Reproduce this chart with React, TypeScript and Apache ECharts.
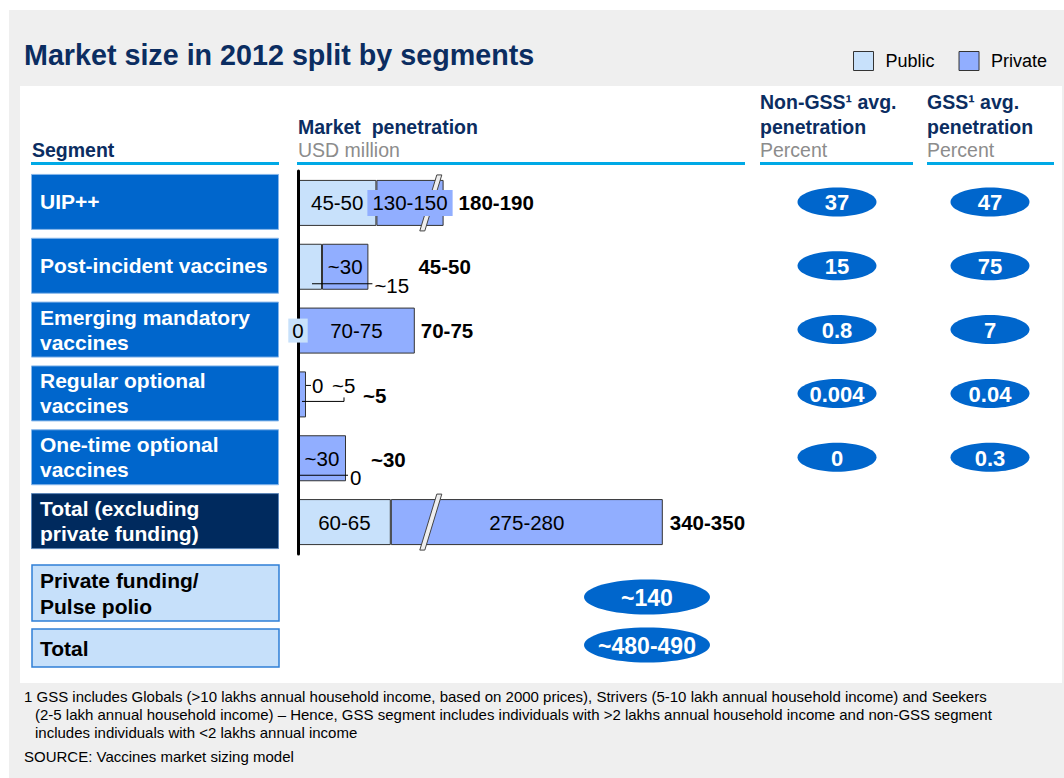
import React, { useEffect, useRef } from 'react';
import * as echarts from 'echarts';

// ---------- data ----------
const segments = [
  'UIP++',
  'Post-incident vaccines',
  'Emerging mandatory\nvaccines',
  'Regular optional\nvaccines',
  'One-time optional\nvaccines',
  'Total (excluding\nprivate funding)',
];
// drawn bar lengths in USD million (broken bars are shown truncated)
const publicBar = [49, 15, 0, 0, 0, 58];
const privateBar = [42, 29, 73, 5, 30, 170];
const publicLabels = ['45-50', '~15', '0', '0', '0', '60-65'];
const privateLabels = ['130-150', '~30', '70-75', '~5', '~30', '275-280'];
const totalLabels = ['180-190', '45-50', '70-75', '~5', '~30', '340-350'];
const brokenRows = [0, 5];
const nonGssPenetration = ['37', '15', '0.8', '0.004', '0'];
const gssPenetration = ['47', '75', '7', '0.04', '0.3'];
const extraSegments = ['Private funding/\nPulse polio', 'Total'];
const extraValues = ['~140', '~480-490'];
const footnoteLines = [
  '1 GSS includes Globals (>10 lakhs annual household income, based on 2000 prices), Strivers (5-10 lakh annual household income) and Seekers',
  '(2-5 lakh annual household income) \u2013 Hence, GSS segment includes individuals with >2 lakhs annual household income and non-GSS segment',
  'includes individuals with <2 lakhs annual income',
];
const sourceText = 'SOURCE: Vaccines market sizing model';

// ---------- styles ----------
const FONT = '"Liberation Sans", Arial, Helvetica, sans-serif';
const NAVY = '#0b2d61';
const CYAN = '#00a9e6';
const GREY_TXT = '#8c8c8c';
const BLUE = '#0066cc';
const DARK = '#002a5e';
const LIGHT = '#c6e0fa';
const PUBLIC = '#c8e1fb';
const PRIVATE = '#91aeff';
const BREAK_AT = 83;
const TOTAL_GAP = [15, 50, 6, 57, 25, 7];
const BAR_FS = 20.5;
const SEG_FS = 21;
const HDR_FS = 19.5;

type Any = any;

function txt(x: number, y: number, text: string, o: Any = {}): Any {
  return {
    type: 'text',
    x,
    y,
    z: o.z ?? 20,
    silent: true,
    style: {
      text,
      fontFamily: FONT,
      fontSize: o.size ?? 20,
      fontWeight: o.bold ? 'bold' : 'normal',
      fill: o.color ?? '#000',
      align: o.align ?? 'left',
      verticalAlign: 'middle',
      lineHeight: o.lh,
      backgroundColor: o.bg,
      padding: o.pad,
    },
  };
}
function rect(x: number, y: number, w: number, h: number, fill: string, o: Any = {}): Any {
  return {
    type: 'rect',
    z: o.z ?? 1,
    silent: true,
    shape: { x, y, width: w, height: h },
    style: { fill, stroke: o.stroke, lineWidth: o.lw ?? 0 },
  };
}
function line(x1: number, y1: number, x2: number, y2: number, color: string, w: number, z = 20): Any {
  return {
    type: 'line',
    z,
    silent: true,
    shape: { x1, y1, x2, y2 },
    style: { stroke: color, lineWidth: w },
  };
}
function ellipse(cx: number, cy: number, rx: number, ry: number, label: string, size: number): Any[] {
  return [
    { type: 'ellipse', z: 15, silent: true, shape: { cx, cy, rx, ry }, style: { fill: BLUE } },
    txt(cx, cy + 1, label, { size, bold: true, color: '#fff', align: 'center', z: 16 }),
  ];
}

export default function App() {
  const ref = useRef<HTMLDivElement>(null);
  useEffect(() => {
    if (!ref.current) return;
    const chart = echarts.init(ref.current, undefined, { renderer: 'svg' });
    const labelBase = { fontFamily: FONT, fontSize: BAR_FS, color: '#000' };
    chart.setOption({
      animation: false,
      backgroundColor: '#ffffff',
      legend: {
        left: 848,
        top: 46,
        itemWidth: 20,
        itemHeight: 19,
        itemGap: 24,
        icon: 'rect',
        selectedMode: false,
        textStyle: { fontFamily: FONT, fontSize: 18, color: '#000', padding: [0, 0, 0, 7] },
        data: [
          { name: 'Public', itemStyle: { color: PUBLIC, borderColor: '#333', borderWidth: 1 } },
          { name: 'Private', itemStyle: { color: PRIVATE, borderColor: '#333', borderWidth: 1 } },
        ],
      },
      grid: { left: 298, top: 171, width: 640, height: 383 },
      xAxis: { type: 'value', min: 0, max: 400, show: false },
      yAxis: {
        type: 'category',
        data: segments,
        inverse: true,
        z: 8,
        axisLine: { show: true, lineStyle: { color: '#000', width: 3 } },
        axisTick: { show: false },
        axisLabel: { show: false },
        splitLine: { show: false },
      },
      series: [
        {
          name: 'Public',
          type: 'bar',
          stack: 'mkt',
          barWidth: 46,
          itemStyle: { color: PUBLIC, borderColor: '#333', borderWidth: 1 },
          label: { show: false, position: 'inside', ...labelBase },
          data: publicBar.map((v, i) => ({
            value: v,
            label: { show: i === 0 || i === 5, formatter: publicLabels[i] },
          })),
        },
        {
          name: 'Private',
          type: 'bar',
          stack: 'mkt',
          barWidth: 46,
          itemStyle: { color: PRIVATE, borderColor: '#333', borderWidth: 1 },
          label: { show: false, position: 'inside', ...labelBase },
          data: privateBar.map((v, i) => ({
            value: v,
            label: { show: i !== 3 && i !== 0, formatter: privateLabels[i] },
          })),
        },
      ],
    });

    const px = (v: number, row: number) =>
      chart.convertToPixel({ gridIndex: 0 }, [v, row]) as number[];

    const g: Any[] = [];
    // backgrounds
    g.push(rect(9, 10, 1055, 768, '#efefef', { z: 0 }));
    g.push(rect(20, 86, 1042, 597, '#ffffff', { z: 0 }));
    // title
    g.push(txt(24, 55, 'Market size in 2012 split by segments', { size: 28.7, bold: true, color: NAVY }));
    // headers
    g.push(txt(32, 150, 'Segment', { size: HDR_FS, bold: true, color: NAVY }));
    g.push(line(31, 163.5, 279, 163.5, CYAN, 3));
    g.push(txt(298, 127, 'Market  penetration', { size: HDR_FS, bold: true, color: NAVY }));
    g.push(txt(298, 150, 'USD million', { size: HDR_FS, color: GREY_TXT }));
    g.push(line(297, 163.5, 745, 163.5, CYAN, 3));
    g.push(txt(760, 102, 'Non-GSS\u00b9 avg.', { size: HDR_FS, bold: true, color: NAVY }));
    g.push(txt(760, 127, 'penetration', { size: HDR_FS, bold: true, color: NAVY }));
    g.push(txt(760, 150, 'Percent', { size: HDR_FS, color: GREY_TXT }));
    g.push(line(760, 163.5, 913, 163.5, CYAN, 3));
    g.push(txt(927, 102, 'GSS\u00b9 avg.', { size: HDR_FS, bold: true, color: NAVY }));
    g.push(txt(927, 127, 'penetration', { size: HDR_FS, bold: true, color: NAVY }));
    g.push(txt(927, 150, 'Percent', { size: HDR_FS, color: GREY_TXT }));
    g.push(line(927, 163.5, 1054, 163.5, CYAN, 3));

    // segment boxes + penetration ellipses
    segments.forEach((s, i) => {
      const cy = px(0, i)[1] - 1;
      const last = i === segments.length - 1;
      g.push(rect(31.5, cy - 27.5, 247, 55, last ? DARK : BLUE, { stroke: last ? '#5d86b8' : '#86b6ea', lw: 1 }));
      g.push(txt(40, cy, s, { size: SEG_FS, bold: true, color: '#fff', lh: 25 }));
      if (i < nonGssPenetration.length) {
        g.push(...ellipse(837, cy, 39.5, 14.5, nonGssPenetration[i], 22));
        g.push(...ellipse(990, cy, 39.5, 14.5, gssPenetration[i], 22));
      }
    });
    // extra rows
    const extraY = [[565, 56], [629, 38]];
    extraSegments.forEach((s, i) => {
      const [y, h] = extraY[i];
      g.push(rect(32, y, 247, h, LIGHT, { stroke: '#2f7fd6', lw: 1.5 }));
      g.push(txt(40, y + h / 2, s, { size: SEG_FS, bold: true, color: '#000', lh: 26 }));
      g.push(...ellipse(647, y + h / 2 + (i === 0 ? 4 : -3), 63, 17.5, extraValues[i], 23));
    });

    // total labels
    totalLabels.forEach((t, i) => {
      const end = px(publicBar[i] + privateBar[i], i);
      const dy = i === 3 ? 1 : i === 4 ? 1 : 0;
      g.push(txt(end[0] + TOTAL_GAP[i], end[1] + dy, t, { size: BAR_FS, bold: true }));
    });

    // axis-break slashes
    brokenRows.forEach((r) => {
      const [x, y] = px(BREAK_AT, r);
      g.push({
        type: 'polygon',
        z: 12,
        silent: true,
        shape: {
          points: [
            [x + 6, y - 28],
            [x + 11, y - 28],
            [x - 6, y + 28],
            [x - 11, y + 28],
          ],
        },
        style: { fill: '#eeeeee', stroke: '#444', lineWidth: 1 },
      });
    });

    // UIP++ private label sits over the break, on its own backdrop
    {
      const a = px(publicBar[0], 0);
      const b = px(publicBar[0] + privateBar[0], 0);
      g.push(txt((a[0] + b[0]) / 2, a[1], privateLabels[0], { size: BAR_FS, align: 'center', bg: PRIVATE, pad: [3, 5, 2, 5], z: 14 }));
    }

    // call-out labels for small values
    {
      // row 1: public ~15
      const y = px(0, 1)[1];
      const pubMid = px(publicBar[1] / 2, 1)[0];
      const end = px(publicBar[1] + privateBar[1], 1)[0];
      g.push(line(pubMid + 2, y + 17, end + 4, y + 17, '#000', 1));
      g.push(txt(end + 6, y + 19, publicLabels[1], { size: BAR_FS }));
    }
    {
      // row 2: public 0 badge at axis
      const [x0, y] = px(0, 2);
      g.push(txt(x0, y, publicLabels[2], { size: BAR_FS, align: 'center', bg: PUBLIC, pad: [2, 4, 1, 4], z: 9 }));
    }
    {
      // row 3: public 0 and private ~5
      const [x0, y] = px(0, 3);
      const end = px(publicBar[3] + privateBar[3], 3)[0];
      g.push(line(end, y - 9, end + 5, y - 9, '#000', 1));
      g.push(txt(end + 6, y - 9, publicLabels[3], { size: BAR_FS }));
      g.push(txt(end + 26, y - 9, privateLabels[3], { size: BAR_FS }));
      g.push({
        type: 'polyline',
        z: 20,
        silent: true,
        shape: { points: [[x0 + 4, y + 7], [x0 + 46, y + 7], [x0 + 46, y + 3]] },
        style: { stroke: '#000', lineWidth: 1, fill: 'none' },
      });
    }
    {
      // row 4: public 0
      const [x0, y] = px(0, 4);
      const end = px(publicBar[4] + privateBar[4], 4)[0];
      g.push(line(x0, y + 17, end + 2, y + 17, '#000', 1));
      g.push(txt(end + 4, y + 19, publicLabels[4], { size: BAR_FS }));
    }

    // footnotes
    g.push(txt(24, 696, footnoteLines[0], { size: 15, color: '#000' }));
    g.push(txt(35, 714, footnoteLines[1], { size: 15, color: '#000' }));
    g.push(txt(35, 732, footnoteLines[2], { size: 15, color: '#000' }));
    g.push(txt(24, 756, sourceText, { size: 15, color: '#000' }));

    chart.setOption({ graphic: { elements: g } });
    return () => chart.dispose();
  }, []);
  return (
    <div
      ref={ref}
      style={{ position: 'fixed', left: 0, top: 0, width: 1064, height: 778 }}
    />
  );
}
